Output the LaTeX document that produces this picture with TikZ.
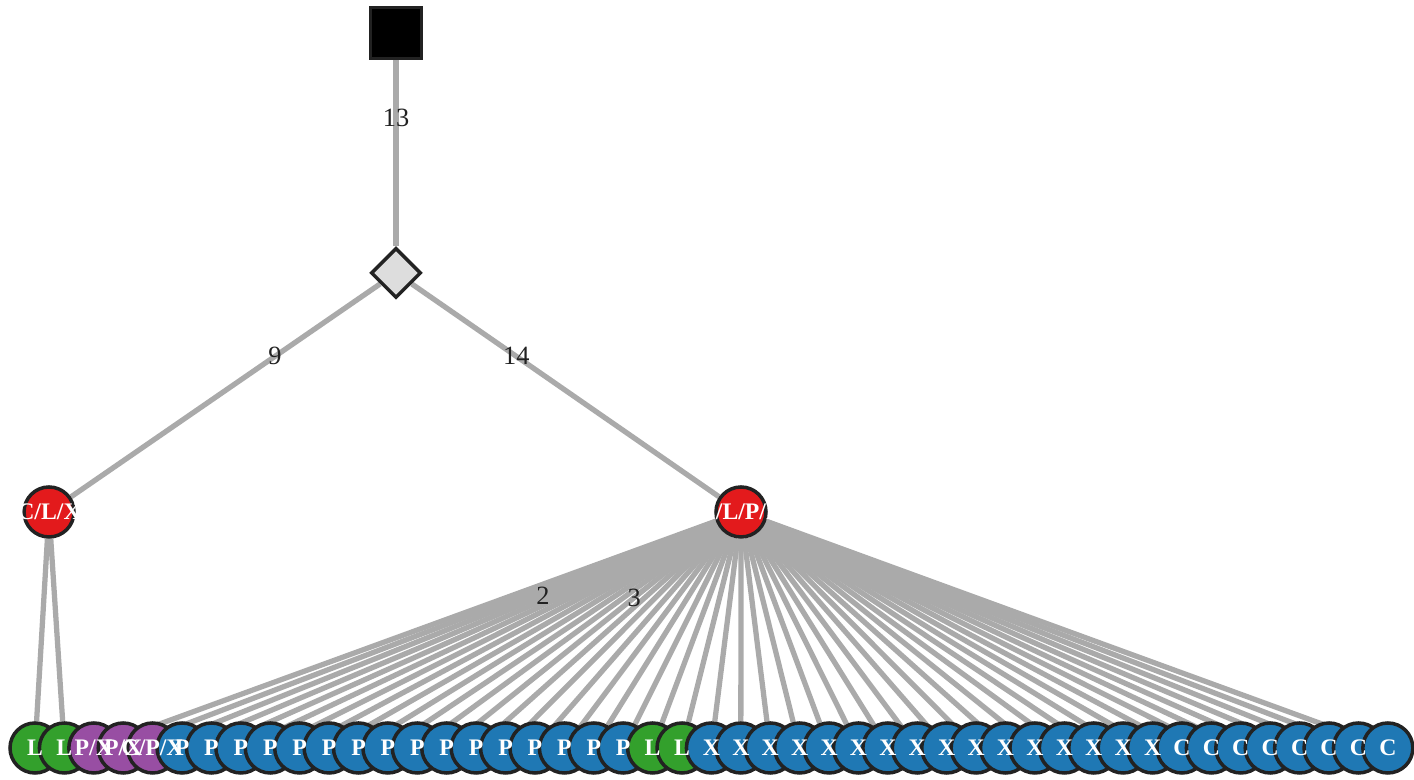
\documentclass[tikz,border=0pt]{standalone}
\usepackage{fontspec}
\setmainfont{Liberation Serif}
\usetikzlibrary{positioning,shapes.geometric,backgrounds}
\definecolor{treeEdge}{HTML}{AAAAAA}
\definecolor{treeInk}{HTML}{222222}
\definecolor{leafGreen}{HTML}{33A02C}
\definecolor{leafPurple}{HTML}{984EA3}
\definecolor{leafBlue}{HTML}{1F78B4}
\definecolor{splitRed}{HTML}{E31A1C}
\definecolor{splitGray}{HTML}{DDDDDD}
\newcommand\leafList{leafGreen/L,leafGreen/L,leafPurple/{P/X},leafPurple/{P/X},leafPurple/{C/P/X},
  leafBlue/P,leafBlue/P,leafBlue/P,leafBlue/P,leafBlue/P,leafBlue/P,leafBlue/P,leafBlue/P,
  leafBlue/P,leafBlue/P,leafBlue/P,leafBlue/P,leafBlue/P,leafBlue/P,leafBlue/P,leafBlue/P,
  leafGreen/L,leafGreen/L,
  leafBlue/X,leafBlue/X,leafBlue/X,leafBlue/X,leafBlue/X,leafBlue/X,leafBlue/X,leafBlue/X,
  leafBlue/X,leafBlue/X,leafBlue/X,leafBlue/X,leafBlue/X,leafBlue/X,leafBlue/X,leafBlue/X,
  leafBlue/C,leafBlue/C,leafBlue/C,leafBlue/C,leafBlue/C,leafBlue/C,leafBlue/C,leafBlue/C}

\begin{document}
\begin{tikzpicture}[x=1cm,y=1cm,
  link/.style={draw=treeEdge,line width=3pt},
  wlab/.style={font=\fontsize{15}{15}\selectfont,text=treeInk,inner sep=1pt},
  vertex/.style={circle,draw=treeInk,fill=#1,line width=2pt,minimum size=1.0cm,inner sep=0pt},
  vlab/.style={font=\bfseries\fontsize{13.5}{13.5}\selectfont,text=white,inner sep=0pt}
]
  \useasboundingbox (0,0) rectangle (28.28,15.6);

  % inner nodes
  \node[rectangle,draw=treeInk,fill=black,line width=1.2pt,minimum size=1.02cm] (root) at (7.92,14.94) {};
  \node[diamond,draw=treeInk,fill=splitGray,line width=2pt,minimum size=1.0cm,inner sep=0pt] (split) at (7.92,10.14) {};
  \node[vertex=splitRed] (left) at (0.98,5.36) {};
  \node[vertex=splitRed] (right) at (14.82,5.36) {};

  % leaves, circles first, texts on top
  \foreach \col/\lab [count=\i] in \leafList {
    \node[vertex=\col] (leaf\i) at ({0.70+(\i-1)*0.5882},0.64) {};
  }
  \node[vlab] (leftlab) at (left) {C/L/X};
  \node[vlab] (rightlab) at (right) {C/L/P/X};
  \foreach \col/\lab [count=\i] in \leafList {
    \node[vlab] (leaflab\i) at (leaf\i) {\lab};
  }

  % edges
  \begin{scope}[on background layer]
    \draw[link] (root) -- node[wlab,pos=0.31] (w13) {13} (split);
    \draw[link] (split) -- node[wlab,pos=0.34] (w9) {9} (left);
    \draw[link] (split) -- node[wlab,pos=0.34] (w14) {14} (right);
    \foreach \i in {1,2}
      \draw[link] (left) -- (leaf\i);
    \foreach \i in {3,4,5,7,8,...,14,16,17,...,47}
      \draw[link] (right) -- (leaf\i);
    \draw[link] (right) -- node[wlab,pos=0.34] (w2) {2} (leaf6);
    \draw[link] (right) -- node[wlab,pos=0.34] (w3) {3} (leaf15);
  \end{scope}
\end{tikzpicture}
\end{document}
